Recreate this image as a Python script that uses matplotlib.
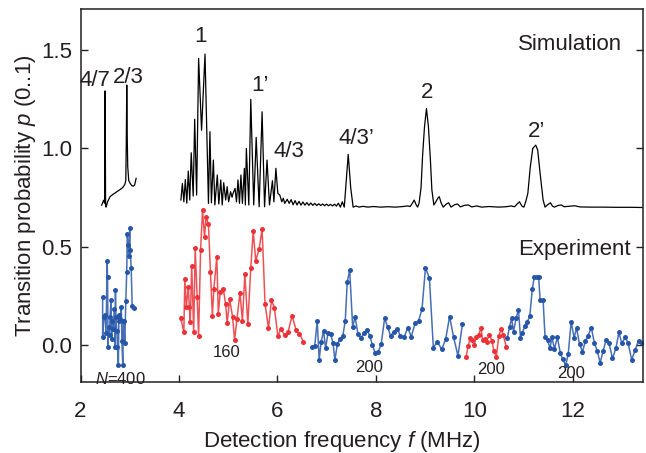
import numpy as np
import matplotlib
matplotlib.use("Agg")
import matplotlib.pyplot as plt

plt.rcParams['font.family'] = ['Liberation Sans', 'DejaVu Sans']
plt.rcParams['mathtext.fontset'] = 'custom'
plt.rcParams['mathtext.rm'] = 'Liberation Sans'
plt.rcParams['mathtext.it'] = 'Liberation Sans:italic'

# Simulation (black line), two pieces
sim_f1 = [2.43, 2.47, 2.49, 2.50, 2.51, 2.52, 2.55, 2.60, 2.66, 2.71, 2.76, 2.81,
          2.86, 2.90, 2.92, 2.93, 2.94, 2.95, 2.96, 2.98, 3.01, 3.04, 3.07, 3.10, 3.13]
sim_p1 = [0.71, 0.735, 0.72, 1.29, 0.71, 0.70, 0.727, 0.753, 0.765, 0.773, 0.782, 0.79,
          0.80, 0.815, 0.835, 1.015, 1.32, 1.05, 0.905, 0.835, 0.82, 0.81, 0.806, 0.812, 0.846]

sim_f2 = [4.04, 4.07, 4.10, 4.13, 4.16, 4.19, 4.22, 4.25, 4.29, 4.32, 4.36, 4.40,
          4.46, 4.53, 4.58, 4.60, 4.63, 4.66, 4.70, 4.73, 4.78, 4.81, 4.85, 4.88,
          4.91, 4.95, 4.98, 5.01, 5.05, 5.08, 5.10, 5.14, 5.17, 5.20, 5.23, 5.26,
          5.29, 5.33, 5.35, 5.37, 5.42, 5.46, 5.52, 5.57, 5.63, 5.69, 5.74, 5.79,
          5.84, 5.90, 5.93, 5.97, 6.01, 6.05, 6.09, 6.12, 6.15, 6.20, 6.24,
          6.28, 6.32, 6.36, 6.40, 6.44, 6.48, 6.52, 6.56, 6.60, 6.64, 6.68, 6.72,
          6.76, 6.80, 6.84, 6.88, 6.92, 6.96, 7.00, 7.04, 7.08, 7.12, 7.16, 7.20,
          7.24, 7.28, 7.32, 7.36, 7.39, 7.44, 7.49, 7.54, 7.60, 7.66, 7.74, 7.84,
          7.95, 8.10, 8.25, 8.40, 8.55, 8.65, 8.70, 8.75, 8.78, 8.82, 8.85, 8.88,
          8.92, 8.95, 8.99, 9.03, 9.07, 9.11, 9.14, 9.18, 9.22, 9.26, 9.29, 9.33,
          9.37, 9.43, 9.48, 9.53, 9.60, 9.66, 9.72, 9.80, 9.88, 9.95, 10.05, 10.15,
          10.30, 10.50, 10.65, 10.75, 10.82, 10.87, 10.92, 10.97, 11.01, 11.05, 11.09,
          11.14, 11.19, 11.25, 11.29, 11.34, 11.40, 11.44, 11.49, 11.55, 11.59, 11.63,
          11.70, 11.77, 11.83, 11.92, 12.04, 12.15, 12.35, 12.60, 12.90, 13.20, 13.43]
sim_p2 = [0.736, 0.82, 0.727, 0.84, 0.72, 0.883, 0.736, 0.976, 0.756, 1.146, 0.761, 1.455,
          1.09, 1.477, 0.939, 0.719, 1.083, 0.722, 0.939, 0.711, 0.863, 0.716, 0.838, 0.711,
          0.824, 0.736, 0.804, 0.727, 0.778, 0.75, 0.77, 0.795, 0.727, 0.838, 0.719, 0.863,
          0.719, 0.897, 0.711, 0.998, 0.711, 1.247, 0.711, 1.054, 0.702, 1.184, 0.702, 0.939,
          0.711, 0.834, 0.727, 0.897, 0.77, 0.761, 0.727, 0.745, 0.719, 0.74, 0.719,
          0.738, 0.712, 0.733, 0.711, 0.729, 0.710, 0.726, 0.710, 0.723, 0.709, 0.721, 0.709,
          0.719, 0.708, 0.717, 0.708, 0.716, 0.707, 0.715, 0.707, 0.714, 0.706, 0.715, 0.705,
          0.72, 0.70, 0.727, 0.70, 0.80, 0.968, 0.80, 0.70, 0.706, 0.70, 0.704, 0.70,
          0.703, 0.70, 0.702, 0.70, 0.703, 0.706, 0.703, 0.722, 0.736, 0.712, 0.70, 0.72,
          0.80, 0.956, 1.108, 1.20, 1.108, 0.939, 0.787, 0.711, 0.727, 0.745, 0.753, 0.72,
          0.70, 0.715, 0.722, 0.70, 0.712, 0.716, 0.701, 0.709, 0.711, 0.701, 0.706, 0.70,
          0.703, 0.70, 0.702, 0.706, 0.702, 0.715, 0.727, 0.705, 0.70, 0.73, 0.77,
          0.905, 0.998, 1.015, 0.99, 0.87, 0.736, 0.70, 0.712, 0.722, 0.705, 0.70,
          0.708, 0.711, 0.702, 0.704, 0.707, 0.701, 0.700, 0.700, 0.699, 0.699, 0.698]

# Experiment, N=400 (blue)
exp1_f = [2.45, 2.45, 2.47, 2.49, 2.52, 2.54, 2.55, 2.56, 2.57, 2.59, 2.60, 2.62,
          2.63, 2.65, 2.67, 2.69, 2.70, 2.71, 2.72, 2.74, 2.75, 2.77, 2.78, 2.79,
          2.81, 2.83, 2.84, 2.86, 2.87, 2.88, 2.90, 2.92, 2.94, 2.95, 2.97, 2.98,
          3.00, 3.01, 3.03, 3.05, 3.08]
exp1_p = [0.245, 0.042, 0.144, 0.15, 0.059, 0.428, 0.347, -0.008, 0.09, 0.05, 0.14, 0.228,
          0.03, 0.12, 0.08, 0.181, -0.008, 0.279, 0.14, 0.07, -0.01, -0.10, 0.15, 0.12,
          0.13, 0.195, 0.02, -0.10, 0.12, 0.12, 0.008, 0.223, 0.372, 0.562, 0.508, 0.45,
          0.592, 0.482, 0.389, 0.198, 0.186]

# Experiment, N=160 (red)
exp2_f = [4.04, 4.10, 4.12, 4.15, 4.19, 4.21, 4.23, 4.26, 4.30, 4.33, 4.37, 4.40,
          4.44, 4.48, 4.52, 4.55, 4.60, 4.64, 4.68, 4.71, 4.77, 4.80, 4.84, 4.90,
          4.95, 4.98, 5.03, 5.09, 5.13, 5.18, 5.24, 5.29, 5.34, 5.40, 5.46, 5.51,
          5.56, 5.63, 5.69, 5.75, 5.82, 5.88, 5.94, 6.01, 6.07, 6.15, 6.22, 6.30,
          6.38, 6.45, 6.53]
exp2_p = [0.135, 0.064, 0.333, 0.195, 0.296, 0.195, 0.115, 0.403, 0.064, 0.494, 0.245, 0.046,
          0.482, 0.685, 0.547, 0.648, 0.613, 0.372, 0.149, 0.286, 0.448, 0.157, 0.271, 0.286,
          0.207, 0.110, 0.232, 0.144, 0.025, 0.132, 0.266, 0.122, 0.360, 0.105, 0.392, 0.579,
          0.428, 0.487, 0.589, 0.208, 0.085, 0.228, 0.189, 0.046, 0.080, 0.051, 0.068, 0.149,
          0.076, 0.056, 0.017]

# Experiment, N=200 (blue)
exp3_f = [6.71, 6.76, 6.81, 6.85, 6.89, 6.94, 6.98, 7.03, 7.08, 7.13, 7.17, 7.22,
          7.27, 7.33, 7.38, 7.42, 7.47, 7.53, 7.58, 7.64, 7.70, 7.76, 7.82, 7.88,
          7.93, 7.99, 8.05, 8.11, 8.18, 8.24, 8.30, 8.37, 8.44, 8.50, 8.58, 8.65,
          8.72, 8.80, 8.87, 8.94, 9.01, 9.09, 9.17, 9.25, 9.34, 9.42, 9.50, 9.58,
          9.67, 9.76]
exp3_p = [-0.012, -0.003, 0.122, -0.076, 0.017, 0.070, -0.017, 0.062, 0.056, 0.012, -0.076, 0.005,
          0.029, 0.046, 0.123, 0.320, 0.381, 0.093, 0.141, 0.054, 0.034, 0.062, 0.076, 0.046,
          0.000, -0.042, -0.034, 0.004, 0.135, 0.093, 0.046, 0.068, 0.081, 0.046, 0.042, 0.088,
          0.042, 0.110, 0.123, 0.184, 0.392, 0.339, -0.014, 0.017, -0.022, 0.029, 0.144, 0.042,
          -0.056, 0.105]

# Experiment, N=200 (red)
exp4_f = [9.835, 9.88, 9.92, 9.96, 10.00, 10.04, 10.09, 10.14, 10.17, 10.21, 10.25, 10.31,
          10.36, 10.40, 10.45, 10.50, 10.55, 10.59, 10.65]
exp4_p = [-0.059, -0.003, 0.037, 0.025, -0.002, 0.042, 0.051, 0.088, 0.025, 0.029, 0.017, 0.052,
          0.020, -0.030, -0.059, 0.047, 0.080, 0.051, -0.008]

# Experiment, N=200 (blue)
exp5_f = [10.67, 10.72, 10.76, 10.80, 10.85, 10.90, 10.94, 10.98, 11.03, 11.08, 11.13, 11.18,
          11.22, 11.27, 11.31, 11.34, 11.40, 11.44, 11.49, 11.54, 11.58, 11.63, 11.69, 11.75,
          11.80, 11.86, 11.91, 11.97, 12.03, 12.08, 12.14, 12.20, 12.26, 12.31, 12.38, 12.44,
          12.50, 12.56, 12.62, 12.68, 12.74, 12.81, 12.88, 12.94, 13.00, 13.07, 13.13, 13.20,
          13.27, 13.34, 13.40]
exp5_p = [0.034, 0.093, 0.135, 0.068, 0.135, 0.178, 0.037, 0.062, 0.096, 0.118, 0.147, 0.283,
          0.344, 0.344, 0.344, 0.228, 0.228, 0.039, 0.025, -0.017, 0.039, -0.020, 0.039, -0.042,
          -0.073, -0.102, -0.047, 0.118, 0.037, 0.085, 0.004, -0.034, 0.020, 0.046, 0.088, 0.012,
          -0.030, -0.090, -0.030, 0.025, 0.008, -0.068, -0.017, 0.064, 0.008, 0.039, 0.008, -0.076,
          -0.025, 0.022, 0.008]

blue = '#2656a8'
red = '#ec3237'
txt = '#231f20'

fig = plt.figure(figsize=(6.46, 4.53), dpi=100)
ax = fig.add_axes([80.5 / 646, 71 / 453, 562.5 / 646, 373 / 453])

ax.plot(sim_f1, sim_p1, color='k', lw=0.9)
ax.plot(sim_f2, sim_p2, color='k', lw=0.9)

for f, p, c in [(exp1_f, exp1_p, blue), (exp2_f, exp2_p, red), (exp3_f, exp3_p, blue),
                (exp4_f, exp4_p, red), (exp5_f, exp5_p, blue)]:
    ax.plot(f, p, color=c, lw=1.1, alpha=0.85)
    ax.plot(f, p, 'o', color=c, ms=3.6, mew=0)

ax.set_xlim(2.0, 13.43)
ax.set_ylim(-0.188, 1.706)
ax.set_xticks([2, 4, 6, 8, 10, 12])
ax.set_yticks([0.0, 0.5, 1.0, 1.5])
ax.set_yticklabels(['0.0', '0.5', '1.0', '1.5'])
ax.tick_params(direction='in', length=5, width=1, labelsize=16, colors=txt, right=True)
ax.tick_params(axis='x', pad=14)
ax.tick_params(axis='y', pad=6)
for s in ax.spines.values():
    s.set_linewidth(1.1)
    s.set_color(txt)

ax.set_xlabel('Detection frequency $f$ (MHz)', fontsize=16, color=txt)
ax.xaxis.set_label_coords(0.464, -0.125)
ax.set_ylabel('Transition probability $p$ (0..1)', fontsize=16, color=txt)
ax.yaxis.set_label_coords(-0.076, 0.5)

big = dict(fontsize=16, color=txt, ha='center', va='center')
ax.text(2.30, 1.345, '4/7', **big)
ax.text(2.98, 1.36, '2/3', **big)
ax.text(4.44, 1.568, '1', **big)
ax.text(5.65, 1.32, '1\u2019', **big)
ax.text(6.24, 0.98, '4/3', **big)
ax.text(7.60, 1.05, '4/3\u2019', **big)
ax.text(9.05, 1.28, '2', **big)
ax.text(11.27, 1.086, '2\u2019', **big)
ax.text(11.94, 1.528, 'Simulation', **big)
ax.text(12.04, 0.487, 'Experiment', **big)

small = dict(fontsize=12, color=txt, ha='center', va='center')
ax.text(2.81, -0.173, '$N$=400', **small)
ax.text(4.97, -0.036, '160', **small)
ax.text(7.87, -0.114, '200', **small)
ax.text(10.35, -0.122, '200', **small)
ax.text(11.96, -0.147, '200', **small)

fig.savefig('out.png', dpi=100)
